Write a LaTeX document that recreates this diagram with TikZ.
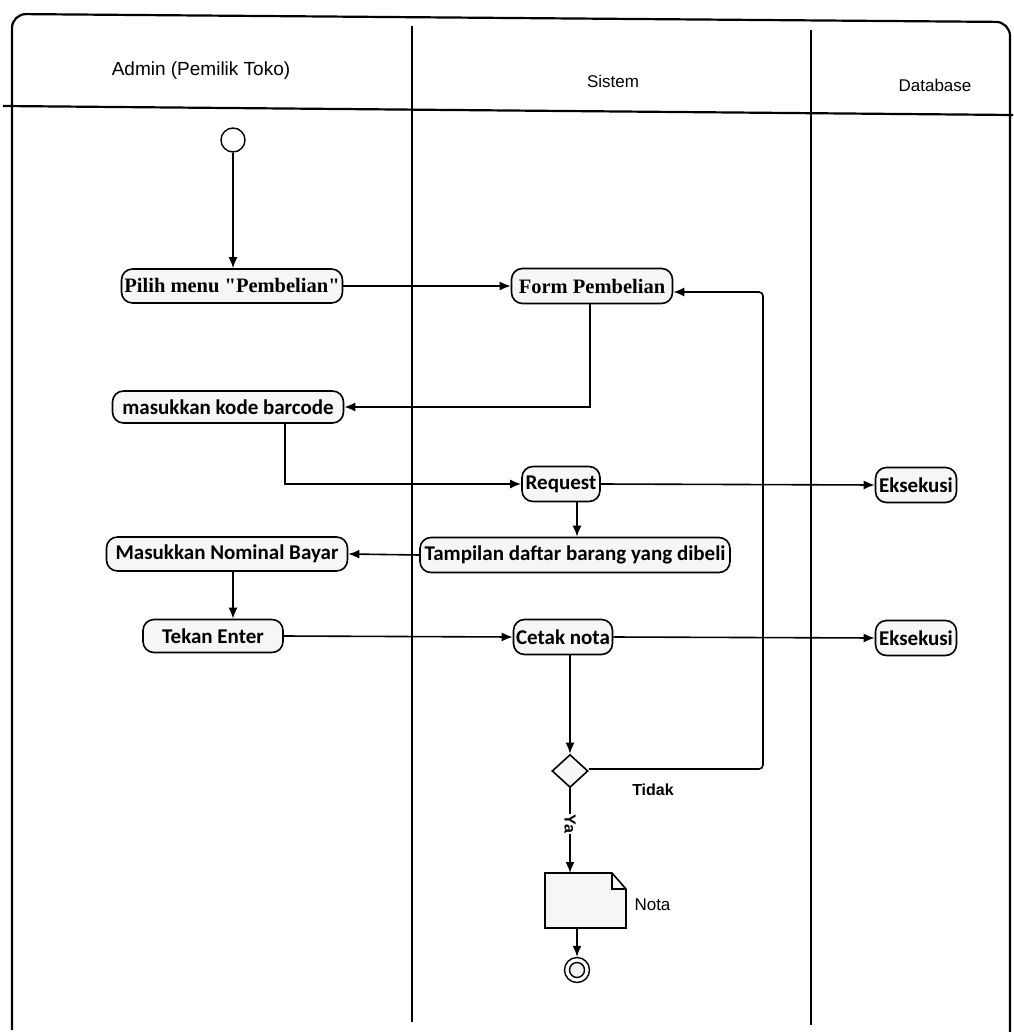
\documentclass[tikz,border=0pt]{standalone}
\usepackage{fontspec}
\setmainfont{Liberation Sans}
\newfontfamily\actfont{Carlito}
\newfontfamily\actserif{Liberation Serif}
\usetikzlibrary{arrows.meta,shapes.geometric,calc}

\tikzset{
  lane/.style={line width=1.8pt},
  act/.style={draw, line width=1.6pt, rounded corners=11pt, fill=gray!7,
    inner sep=2pt, font=\actfont\bfseries\fontsize{21}{24}\selectfont},
  actser/.style={act, font=\actserif\bfseries\fontsize{20.5}{24}\selectfont},
  flow/.style={line width=1.6pt, -{Latex[length=11pt,width=9pt]}},
  lbl/.style={font=\fontsize{17}{20}\selectfont},
  hdr/.style={font=\fontsize{17}{20}\selectfont},
}

\begin{document}
\begin{tikzpicture}[x=1pt,y=-1pt]
\useasboundingbox (0,0) rectangle (1013,1032);

% swimlane frame and dividers
\draw[line width=2.2pt, rounded corners=14pt] (12,1030) -- (12,14) -- (1010,22) -- (1010,1032);
\draw[line width=2.2pt] (3,106) -- (1013,115);
\draw[lane] (412,26) -- (412,1022);
\draw[lane] (811,30) -- (811,1025);

% lane headers
\node[hdr, font=\fontsize{19}{22}\selectfont] (hadmin) at (201,71) {Admin (Pemilik Toko)};
\node[hdr] (hsys) at (613,81) {Sistem};
\node[hdr] (hdb) at (935,85) {Database};

% activities
\node[draw, circle, line width=1.4pt, fill=white, minimum size=24pt, inner sep=0pt] (start) at (233,140) {};
\node[actser, minimum width=221pt, minimum height=34pt] (pilih) at (232,286) {Pilih menu "Pembelian"};
\node[actser, minimum width=161pt, minimum height=35pt] (form) at (592,286) {Form Pembelian};
\node[act, minimum width=231pt, minimum height=32pt] (kode) at (228,407) {masukkan kode barcode};
\node[act, minimum width=78pt, minimum height=35pt] (request) at (561,484) {Request};
\node[act, minimum width=81pt, minimum height=35pt] (eks1) at (916,485) {Eksekusi};
\node[act, minimum width=310pt, minimum height=35pt] (tampil) at (575,555) {Tampilan daftar barang yang dibeli};
\node[act, minimum width=241pt, minimum height=34pt] (nominal) at (227,554) {Masukkan Nominal Bayar};
\node[act, minimum width=140pt, minimum height=33pt] (tekan) at (213,636) {Tekan Enter};
\node[act, minimum width=99pt, minimum height=35pt] (cetak) at (563,637) {Cetak nota};
\node[act, minimum width=81pt, minimum height=35pt] (eks2) at (916,638) {Eksekusi};

\node[draw, diamond, aspect=1.1, line width=1.6pt, fill=gray!7, minimum width=36pt, minimum height=33pt, inner sep=0pt] (dec) at (570,771) {};

% document object "Nota" with folded corner
\fill[gray!7] (545,873) -- (612,873) -- (626,889) -- (626,928) -- (545,928) -- cycle;
\draw[line width=1.6pt] (545,873) -- (612,873) -- (626,889) -- (626,928) -- (545,928) -- cycle;
\draw[line width=1.1pt] (612,873) -- (612,889) -- (626,889);
\coordinate (notaN) at (567,873);
\coordinate (notaS) at (577,928);
\node[lbl, anchor=west] (notalbl) at (631,905) {Nota};

\node[draw, circle, line width=1.4pt, fill=white, minimum size=25pt, inner sep=0pt] (end) at (577,970) {};
\node[draw, circle, line width=1.4pt, fill=gray!10, minimum size=15pt, inner sep=0pt] (endin) at (577,970) {};

% control flow
\draw[flow] (start) -- (pilih.north -| start);
\draw[flow] (pilih.east) -- (form.west);
\draw[flow] ([xshift=-2pt]form.south) |- (kode.east);
\draw[flow] ([xshift=57pt]kode.south) |- (request.west);
\draw[flow] (request.east) -- (eks1.west);
\draw[flow] ([xshift=16pt]request.south) -- ([xshift=16pt]request.south |- tampil.north);
\draw[flow] (tampil.west) -- (nominal.east);
\draw[flow] ([xshift=6pt]nominal.south) -- ([xshift=6pt]nominal.south |- tekan.north);
\draw[flow] (tekan.east) -- (cetak.west);
\draw[flow] (cetak.east) -- (eks2.west);
\draw[flow] (dec.north |- cetak.south) -- (dec.north);
\coordinate (loopB) at (763,769);
\coordinate (loopT) at (763,292);
\draw[flow, rounded corners=4pt] (dec.east |- loopB) -- (loopB) -- (loopT) -- (form.east |- loopT);
\node[lbl, font=\bfseries\fontsize{16}{19}\selectfont] (tidak) at (653,790) {Tidak};
\draw[flow] (dec.south) -- (notaN -| dec.south) node[pos=0.42, rotate=-90, lbl, font=\bfseries\fontsize{16}{19}\selectfont, fill=white, inner sep=0.5pt] (ya) {Ya};
\draw[flow] (notaS) -- (end.north);
\end{tikzpicture}
\end{document}
